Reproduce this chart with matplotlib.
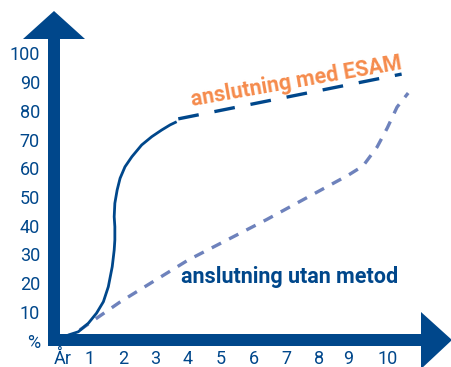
import matplotlib
matplotlib.use("Agg")
import matplotlib.pyplot as plt
from matplotlib.patches import Polygon
import matplotlib.transforms as mtransforms

plt.rcParams['lines.scale_dashes'] = False
plt.rcParams['font.family'] = ['Roboto', 'DejaVu Sans']

# ---- data ----
esam_solid_x = [0.15, 0.34, 0.64, 0.95, 1.20, 1.41, 1.56, 1.68, 1.74, 1.76, 1.76, 1.74, 1.76,
                1.83, 1.92, 2.07, 2.28, 2.58, 2.89, 3.19, 3.45, 3.65]
esam_solid_y = [0.0, 2.1, 3.2, 6.2, 9.7, 13.7, 18.9, 25.9, 31.7, 35.2, 39.8, 43.3, 48.0,
                52.6, 56.7, 60.7, 64.2, 68.3, 71.2, 73.5, 75.3, 76.4]
esam_dash_x = [3.70, 10.53]
esam_dash_y = [77.4, 93.0]

utan_x = [0.2, 1.92, 4.0, 6.4, 8.9, 9.35, 9.78, 10.09, 10.39, 10.73]
utan_y = [0.0, 13.6, 28.2, 42.3, 57.8, 61.0, 67.6, 74.2, 81.5, 86.4]

ytick_vals = [0, 10, 20, 30, 40, 50, 60, 70, 80, 90, 100]
ytick_labels = ['%', '10', '20', '30', '40', '50', '60', '70', '80', '90', '100']
xtick_pos = [0.17, 1, 2, 3, 4, 5, 6, 7, 8, 8.9, 10.1]
xtick_labels = ['År', '1', '2', '3', '4', '5', '6', '7', '8', '9', '10']

label_esam = 'anslutning med ESAM'
label_utan = 'anslutning utan metod'

# ---- style ----
DARK = '#00478b'
LIGHT = '#6e82bc'
ORANGE = '#f58b4c'

W, H = 451, 367
fig = plt.figure(figsize=(W / 100, H / 100), dpi=100)

# data axes: pixel x = 57.3 + 32.7*year ; pixel y = 341 - 2.87*val
ax = fig.add_axes([0, 0, 1, 1])
ax.set_xlim((0 - 57.3) / 32.7, (W - 57.3) / 32.7)
ax.set_ylim((341 - H) / 2.87, 341 / 2.87)
ax.axis('off')

ax.plot(esam_solid_x, esam_solid_y, color=DARK, lw=2.0, solid_capstyle='butt', zorder=3)
l1, = ax.plot(esam_dash_x, esam_dash_y, color=DARK, lw=2.4, zorder=3)
l1.set_dashes((15, 11.5))
l1.set_dash_capstyle('butt')
l2, = ax.plot(utan_x, utan_y, color=LIGHT, lw=2.4, zorder=2)
l2.set_dashes((7.5, 6.5))
l2.set_dash_capstyle('butt')

ax.text(7.3, 90.3, label_esam, color=ORANGE, fontsize=15.5, fontweight='bold',
        rotation=10, ha='center', va='center', rotation_mode='anchor')
ax.text(7.09, 22.3, label_utan, color=DARK, fontsize=15.5, fontweight='bold',
        ha='center', va='center')

ytr = mtransforms.offset_copy(ax.transData, fig, x=0, y=-6.5, units='dots')
for v, lab in zip(ytick_vals, ytick_labels):
    ax.text((40 - 57.3) / 32.7, v, lab, transform=ytr, ha='right', va='baseline',
            color=DARK, fontsize=13)
for p, lab in zip(xtick_pos, xtick_labels):
    ax.text(p, (341 - 364) / 2.87, lab, ha='center', va='baseline', color=DARK, fontsize=13)

# overlay axes in pixel coordinates for arrow axes
ov = fig.add_axes([0, 0, 1, 1], facecolor='none')
ov.set_xlim(0, W)
ov.set_ylim(H, 0)
ov.axis('off')
# vertical arrow
ov.add_patch(Polygon([(48, 346), (60, 346), (60, 39), (85, 39), (54, 11), (23, 39), (48, 39)],
                     closed=True, facecolor=DARK, edgecolor='none'))
# horizontal arrow
ov.add_patch(Polygon([(48, 334), (421, 334), (421, 312), (452, 340), (421, 369), (421, 346), (48, 346)],
                     closed=True, facecolor=DARK, edgecolor='none'))

fig.savefig('out.png', dpi=100)
